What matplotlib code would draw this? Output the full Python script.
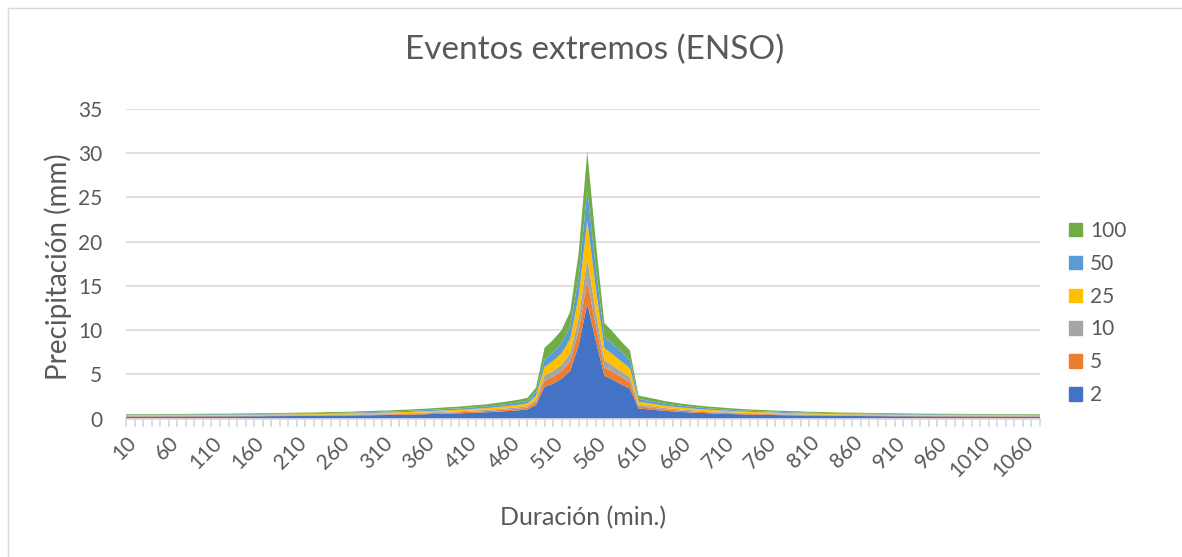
import matplotlib
matplotlib.use("Agg")
import matplotlib.pyplot as plt
import matplotlib.patches as mpatches
import numpy as np

plt.rcParams['font.family'] = ['Lato', 'DejaVu Sans']

durations = list(range(10, 1090, 10))  # 10 .. 1080 min

s2 = [0.22, 0.22, 0.22, 0.22, 0.23, 0.23, 0.23, 0.23, 0.24, 0.24,
      0.25, 0.25, 0.25, 0.26, 0.26, 0.26, 0.27, 0.28, 0.28, 0.29,
      0.29, 0.30, 0.31, 0.32, 0.33, 0.33, 0.34, 0.36, 0.37, 0.38,
      0.40, 0.41, 0.43, 0.45, 0.47, 0.49, 0.52, 0.55, 0.57, 0.60,
      0.63, 0.67, 0.71, 0.76, 0.81, 0.87, 0.94, 1.03, 1.54, 3.60,
      3.95, 4.50, 5.40, 8.30, 13.0, 8.80, 4.85, 4.40, 3.85, 3.40,
      1.14, 1.06, 0.97, 0.88, 0.81, 0.75, 0.70, 0.65, 0.61, 0.57,
      0.54, 0.51, 0.48, 0.46, 0.44, 0.42, 0.40, 0.38, 0.37, 0.36,
      0.34, 0.33, 0.32, 0.31, 0.30, 0.29, 0.29, 0.28, 0.28, 0.27,
      0.26, 0.26, 0.26, 0.25, 0.25, 0.24, 0.24, 0.24, 0.23, 0.23,
      0.23, 0.23, 0.22, 0.22, 0.22, 0.22, 0.22, 0.22]
s5 = [0.05, 0.05, 0.05, 0.05, 0.05, 0.05, 0.05, 0.05, 0.05, 0.05,
      0.05, 0.05, 0.05, 0.05, 0.05, 0.05, 0.05, 0.06, 0.06, 0.06,
      0.06, 0.06, 0.06, 0.06, 0.07, 0.07, 0.07, 0.07, 0.08, 0.08,
      0.08, 0.08, 0.09, 0.09, 0.10, 0.10, 0.11, 0.11, 0.12, 0.12,
      0.13, 0.14, 0.14, 0.15, 0.17, 0.18, 0.19, 0.21, 0.32, 0.70,
      0.78, 0.88, 1.08, 1.65, 2.60, 1.75, 0.95, 0.87, 0.85, 0.72,
      0.23, 0.22, 0.20, 0.18, 0.17, 0.15, 0.14, 0.13, 0.12, 0.12,
      0.11, 0.10, 0.10, 0.09, 0.09, 0.09, 0.08, 0.08, 0.08, 0.07,
      0.07, 0.07, 0.07, 0.06, 0.06, 0.06, 0.06, 0.06, 0.06, 0.05,
      0.05, 0.05, 0.05, 0.05, 0.05, 0.05, 0.05, 0.05, 0.05, 0.05,
      0.05, 0.05, 0.05, 0.05, 0.05, 0.05, 0.04, 0.04]
s10 = [0.04, 0.04, 0.04, 0.04, 0.04, 0.04, 0.04, 0.04, 0.04, 0.04,
       0.04, 0.04, 0.04, 0.04, 0.04, 0.05, 0.05, 0.05, 0.05, 0.05,
       0.05, 0.05, 0.05, 0.05, 0.06, 0.06, 0.06, 0.06, 0.06, 0.07,
       0.07, 0.07, 0.07, 0.08, 0.08, 0.08, 0.09, 0.09, 0.10, 0.10,
       0.11, 0.11, 0.12, 0.13, 0.14, 0.15, 0.16, 0.18, 0.26, 0.58,
       0.65, 0.74, 0.92, 1.45, 2.50, 1.55, 0.80, 0.72, 0.63, 0.57,
       0.20, 0.18, 0.17, 0.15, 0.14, 0.13, 0.12, 0.11, 0.10, 0.10,
       0.09, 0.09, 0.08, 0.08, 0.07, 0.07, 0.07, 0.07, 0.06, 0.06,
       0.06, 0.06, 0.05, 0.05, 0.05, 0.05, 0.05, 0.05, 0.05, 0.05,
       0.05, 0.04, 0.04, 0.04, 0.04, 0.04, 0.04, 0.04, 0.04, 0.04,
       0.04, 0.04, 0.04, 0.04, 0.04, 0.04, 0.04, 0.04]
s25 = [0.07, 0.07, 0.07, 0.07, 0.07, 0.07, 0.07, 0.07, 0.07, 0.07,
       0.07, 0.07, 0.07, 0.08, 0.08, 0.08, 0.08, 0.08, 0.08, 0.08,
       0.09, 0.09, 0.09, 0.09, 0.10, 0.10, 0.10, 0.11, 0.11, 0.11,
       0.12, 0.12, 0.13, 0.13, 0.14, 0.15, 0.15, 0.16, 0.17, 0.18,
       0.19, 0.20, 0.21, 0.22, 0.24, 0.26, 0.28, 0.31, 0.46, 0.98,
       1.12, 1.28, 1.58, 2.50, 4.30, 2.65, 1.38, 1.25, 1.13, 1.00,
       0.34, 0.31, 0.29, 0.26, 0.24, 0.22, 0.21, 0.19, 0.18, 0.17,
       0.16, 0.15, 0.14, 0.14, 0.13, 0.12, 0.12, 0.11, 0.11, 0.11,
       0.10, 0.10, 0.09, 0.09, 0.09, 0.09, 0.09, 0.08, 0.08, 0.08,
       0.08, 0.08, 0.08, 0.07, 0.07, 0.07, 0.07, 0.07, 0.07, 0.07,
       0.07, 0.07, 0.07, 0.07, 0.07, 0.07, 0.06, 0.06]
s50 = [0.06, 0.06, 0.06, 0.06, 0.06, 0.06, 0.06, 0.06, 0.06, 0.07,
       0.07, 0.07, 0.07, 0.07, 0.07, 0.07, 0.07, 0.08, 0.08, 0.08,
       0.08, 0.08, 0.08, 0.09, 0.09, 0.09, 0.09, 0.10, 0.10, 0.10,
       0.11, 0.11, 0.12, 0.12, 0.13, 0.13, 0.14, 0.15, 0.16, 0.16,
       0.17, 0.18, 0.19, 0.21, 0.22, 0.24, 0.26, 0.28, 0.42, 0.82,
       1.02, 1.15, 1.42, 2.20, 3.40, 2.35, 1.27, 1.18, 1.15, 0.95,
       0.31, 0.29, 0.26, 0.24, 0.22, 0.20, 0.19, 0.18, 0.17, 0.16,
       0.15, 0.14, 0.13, 0.12, 0.12, 0.11, 0.11, 0.10, 0.10, 0.10,
       0.09, 0.09, 0.09, 0.09, 0.08, 0.08, 0.08, 0.08, 0.08, 0.07,
       0.07, 0.07, 0.07, 0.07, 0.07, 0.07, 0.07, 0.06, 0.06, 0.06,
       0.06, 0.06, 0.06, 0.06, 0.06, 0.06, 0.06, 0.06]
s100 = [0.07, 0.07, 0.07, 0.07, 0.08, 0.08, 0.08, 0.08, 0.08, 0.08,
        0.08, 0.08, 0.08, 0.08, 0.09, 0.09, 0.09, 0.09, 0.09, 0.09,
        0.10, 0.10, 0.10, 0.10, 0.11, 0.11, 0.11, 0.12, 0.12, 0.13,
        0.13, 0.14, 0.14, 0.15, 0.16, 0.16, 0.17, 0.18, 0.19, 0.20,
        0.21, 0.22, 0.23, 0.25, 0.27, 0.29, 0.31, 0.34, 0.51, 1.32,
        1.38, 1.45, 1.70, 2.70, 4.40, 2.90, 1.55, 1.38, 1.09, 1.06,
        0.38, 0.35, 0.32, 0.29, 0.27, 0.25, 0.23, 0.21, 0.20, 0.19,
        0.18, 0.17, 0.16, 0.15, 0.14, 0.14, 0.13, 0.13, 0.12, 0.12,
        0.11, 0.11, 0.11, 0.10, 0.10, 0.10, 0.10, 0.09, 0.09, 0.09,
        0.09, 0.09, 0.08, 0.08, 0.08, 0.08, 0.08, 0.08, 0.08, 0.08,
        0.08, 0.08, 0.07, 0.07, 0.07, 0.07, 0.07, 0.07]

series_labels = ['2', '5', '10', '25', '50', '100']
series_colors = ['#4472C4', '#ED7D31', '#A5A5A5', '#FFC000', '#5B9BD5', '#70AD47']

W, H = 1182, 557
fig = plt.figure(figsize=(W / 100, H / 100), dpi=100)
fig.patch.set_facecolor('white')

# chart area border
fig.patches.append(mpatches.Rectangle((8 / W, -0.05), 1.1, 1 - 8 / H + 0.05, transform=fig.transFigure,
                                      fill=False, edgecolor='#D9D9D9', linewidth=1.0))

left, right = 126 / W, 1040 / W
top, bottom = 1 - 109 / H, 1 - 418.6 / H
ax = fig.add_axes([left, bottom, right - left, top - bottom])

x = np.arange(len(durations))
ax.stackplot(x, s2, s5, s10, s25, s50, s100, colors=series_colors,
             labels=series_labels, linewidth=0)

ax.set_xlim(0, len(durations) - 1)
ax.set_ylim(0, 35)
ax.set_yticks(range(0, 36, 5))
ax.grid(axis='y', color='#D9D9D9', linewidth=1.2)
ax.set_axisbelow(True)
for sp in ['left', 'right', 'top']:
    ax.spines[sp].set_visible(False)
ax.spines['bottom'].set_color('#D9D9D9')
ax.spines['bottom'].set_linewidth(1.2)

ax.set_xticks(x, minor=True)
ax.set_xticks(x[::5])
ax.set_xticklabels([str(d) for d in durations[::5]], rotation=45, ha='right', va='top',
                   rotation_mode='anchor')
ax.tick_params(axis='x', which='both', length=6, color='#D9D9D9', width=1.2,
               labelsize=15, labelcolor='#595959', pad=4)
ax.tick_params(axis='y', length=0, labelsize=15, labelcolor='#595959', pad=17)

title_y = 1 + (109 - 58) / (418.6 - 109)
title_x = (594.5 - 126) / (1040 - 126)
ax.set_title('Eventos extremos (ENSO)', fontsize=24, color='#595959', y=title_y, va='center',
             x=title_x)
ax.set_xlabel('Duración (min.)', fontsize=18, color='#595959')
ax.xaxis.set_label_coords(0.5, -(518 - 418.6) / (418.6 - 109))
ax.xaxis.label.set_va('center')
ax.set_ylabel('Precipitación (mm)', fontsize=20, color='#595959')
ax.yaxis.set_label_coords(-(126 - 58) / (1040 - 126), 0.5 + (263.8 - 266.5) / (418.6 - 109))
ax.yaxis.label.set_va('center')

handles = [mpatches.Patch(color=c) for c in series_colors][::-1]
fig.legend(handles, series_labels[::-1], loc='center left',
           bbox_to_anchor=(1061 / W, 1 - 313 / H), frameon=False,
           fontsize=15, labelcolor='#595959', handlelength=0.6, handleheight=0.6,
           handletextpad=0.4, labelspacing=0.62, borderaxespad=0)

fig.savefig('out.png', dpi=100, facecolor='white')
